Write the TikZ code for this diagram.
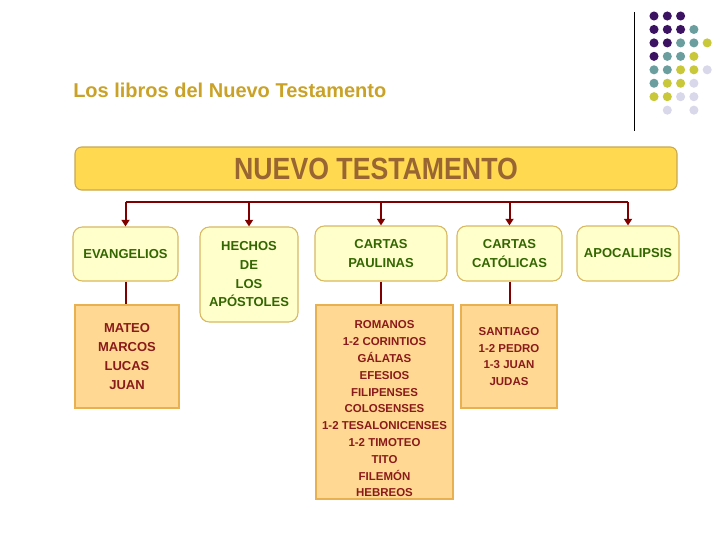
\documentclass[tikz,border=0pt]{standalone}
\usepackage{fontspec}
\setmainfont{Liberation Sans}
\newfontfamily\narrowfont[FakeStretch=0.87]{Liberation Sans}
\usetikzlibrary{arrows.meta}
\definecolor{titlegold}{HTML}{C9A227}
\definecolor{mainfill}{HTML}{FFD94F}
\definecolor{mainborder}{HTML}{C8A850}
\definecolor{maintext}{HTML}{996633}
\definecolor{catfill}{HTML}{FFFFCC}
\definecolor{catborder}{HTML}{D8B860}
\definecolor{cattext}{HTML}{336600}
\definecolor{listfill}{HTML}{FFD993}
\definecolor{listborder}{HTML}{E8B050}
\definecolor{listtext}{HTML}{8B1A1A}
\definecolor{conn}{HTML}{800000}
\definecolor{dotP}{HTML}{3C1362}
\definecolor{dotT}{HTML}{6B9E9E}
\definecolor{dotY}{HTML}{C8C83A}
\definecolor{dotL}{HTML}{D8D8EA}
\tikzset{
  mainbox/.style={draw=mainborder, line width=0.8pt, fill=mainfill, rounded corners=5pt,
    minimum width=451.5pt, minimum height=32.25pt, inner sep=0pt,
    text=maintext, font=\narrowfont\bfseries\fontsize{23}{26}\selectfont},
  catbox/.style={draw=catborder, line width=0.8pt, fill=catfill, rounded corners=7pt,
    inner sep=0pt, align=center, text=cattext,
    font=\bfseries\fontsize{9.75}{14}\selectfont},
  listbox/.style={draw=listborder, line width=0.8pt, fill=listfill, inner sep=0pt},
  listtxt/.style={align=center, text=listtext, inner sep=0pt},
  link/.style={draw=conn, line width=1.5pt},
  arr/.style={link, -{Triangle[width=6pt,length=5pt]}},
  dot/.style={circle, inner sep=0pt, minimum size=6.8pt},
}
\begin{document}
\begin{tikzpicture}[x=0.75pt,y=-0.75pt]
\useasboundingbox[fill=white] (0,0) rectangle (728,546);

% decoration: line and dots
\draw[black, line width=0.75pt] (634,12) -- (634,131);
\foreach \c/\r/\col in {0/0/dotP,1/0/dotP,2/0/dotP,
  0/1/dotP,1/1/dotP,2/1/dotP,3/1/dotT,
  0/2/dotP,1/2/dotP,2/2/dotT,3/2/dotT,4/2/dotY,
  0/3/dotP,1/3/dotT,2/3/dotT,3/3/dotY,
  0/4/dotT,1/4/dotT,2/4/dotY,3/4/dotY,4/4/dotL,
  0/5/dotT,1/5/dotY,2/5/dotY,3/5/dotL,
  0/6/dotY,1/6/dotY,2/6/dotL,3/6/dotL,
  1/7/dotL,3/7/dotL}
  \node[dot, fill=\col] at ({654+13.3*\c},{16+13.45*\r}) {};

% title
\node[anchor=west, inner sep=0pt, text=titlegold, font=\bfseries\fontsize{15}{18}\selectfont]
  (title) at (73,90) {Los libros del Nuevo Testamento};

% main box
\node[mainbox] (nt) at (376,168.5) {NUEVO TESTAMENTO};

% category boxes
\node[catbox, minimum width=78.75pt, minimum height=40.5pt] (ev) at (125.5,254) {EVANGELIOS};
\node[catbox, minimum width=73.5pt, minimum height=71.25pt] (he) at (249,274.5) {HECHOS\\DE\\LOS\\APÓSTOLES};
\node[catbox, minimum width=99pt, minimum height=41.25pt] (pa) at (381,253.5) {CARTAS\\PAULINAS};
\node[catbox, minimum width=78.75pt, minimum height=41.25pt] (ca) at (509.5,253.5) {CARTAS\\CATÓLICAS};
\node[catbox, minimum width=76.5pt, minimum height=41.25pt] (ap) at (628,253.5) {APOCALIPSIS};

% list boxes
\node[listbox, minimum width=78pt, minimum height=77.25pt] (evl) at (127,356.5) {};
\node[listtxt, font=\bfseries\fontsize{9.75}{14.4}\selectfont] at (evl.center) {MATEO\\MARCOS\\LUCAS\\JUAN};
\node[listbox, minimum width=102.75pt, minimum height=145.5pt] (pal) at (384.5,402) {};
\node[listtxt, font=\bfseries\fontsize{8.6}{12.6}\selectfont] at (384.5,409)
  {ROMANOS\\1-2 CORINTIOS\\GÁLATAS\\EFESIOS\\FILIPENSES\\COLOSENSES\\1-2 TESALONICENSES\\1-2 TIMOTEO\\TITO\\FILEMÓN\\HEBREOS};
\node[listbox, minimum width=72pt, minimum height=77.25pt] (cal) at (509,356.5) {};
\node[listtxt, font=\bfseries\fontsize{8.6}{12.4}\selectfont] at (cal.center) {SANTIAGO\\1-2 PEDRO\\1-3 JUAN\\JUDAS};

% connectors
\coordinate (busL) at (125.5,202);
\coordinate (busR) at (628,202);
\draw[link] (busL) -- (busR);
\draw[arr] (busL) -- (ev.north);
\draw[arr] (he.north |- busL) -- (he.north);
\draw[arr] (pa.north |- busL) -- (pa.north);
\draw[arr] (ca.north |- busL) -- (ca.north);
\draw[arr] (busR) -- (ap.north);
\draw[link] (ev.south) -- (ev.south |- evl.north);
\draw[link] (pa.south) -- (pa.south |- pal.north);
\draw[link] (ca.south) -- (ca.south |- cal.north);
\end{tikzpicture}
\end{document}
